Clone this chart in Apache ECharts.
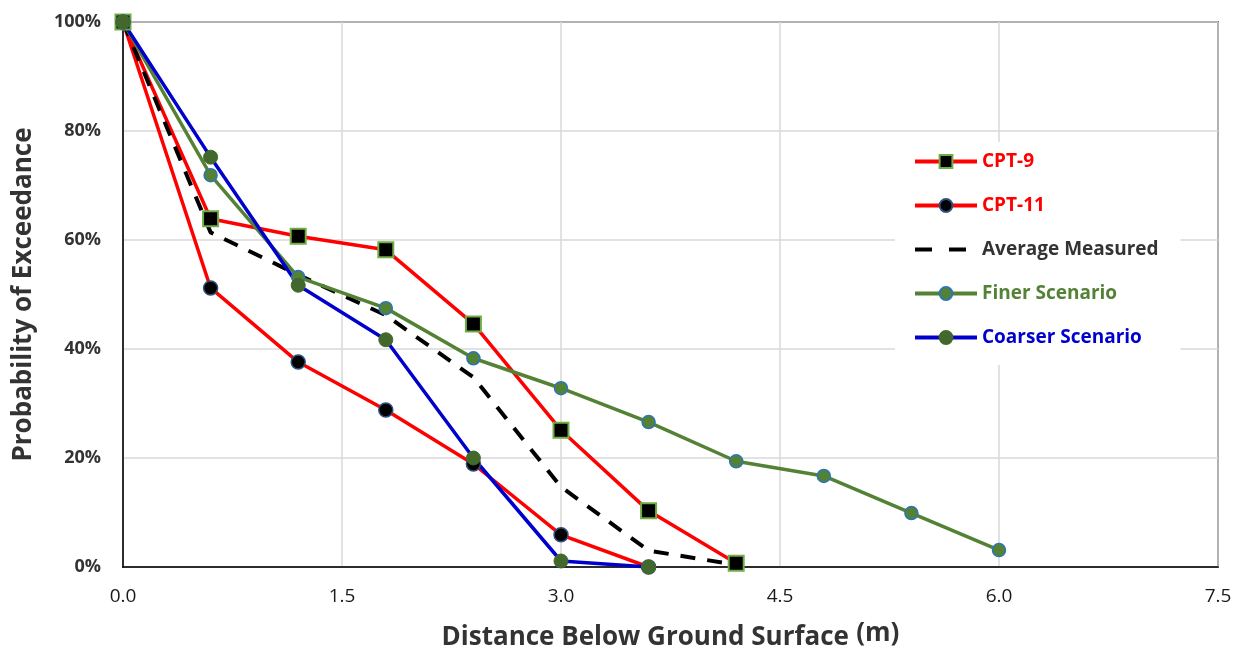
<!DOCTYPE html>
<html>
<head>
<meta charset="utf-8">
<script src="https://cdn.jsdelivr.net/npm/echarts@6/dist/echarts.min.js"></script>
<style>
  html, body { margin: 0; padding: 0; background: #fff; }
  #chart { width: 1236px; height: 650px; }
</style>
</head>
<body>
<div id="chart"></div>
<script>
// distance below ground surface (m)
var depth = [0, 0.6, 1.2, 1.8, 2.4, 3.0, 3.6, 4.2, 4.8, 5.4, 6.0];

// probability of exceedance (%)
var cpt9 = [100, 63.9, 60.7, 58.2, 44.6, 25.1, 10.3, 0.7];
var cpt11 = [100, 51.2, 37.6, 28.8, 18.9, 5.9, 0];
var avgMeasured = [100, 61.4, 53.6, 46.2, 34.8, 14.7, 3.0, 0.4];
var finer = [100, 71.9, 53.2, 47.5, 38.3, 32.8, 26.6, 19.4, 16.7, 9.9, 3.1];
var coarser = [100, 75.2, 51.7, 41.7, 20.0, 1.1, 0];

var xTicks = [0, 1.5, 3.0, 4.5, 6.0, 7.5];

function pairs(vals) {
  return vals.map(function (v, i) { return [depth[i], v]; });
}

var font = 'Open Sans';
// two dashes for the dashed series in the legend (box 62x16)
var dashIcon = 'path://M0,0 M62,16 M0,6 h17 v4 h-17 z M34,6 h17 v4 h-17 z';

var chart = echarts.init(document.getElementById('chart'));

chart.setOption({
  animation: false,
  grid: {
    left: 123, right: 18, top: 22, bottom: 83,
    outerBoundsMode: 'none', containLabel: false,
    show: true, borderColor: '#000', borderWidth: 1.5
  },
  legend: {
    orient: 'vertical',
    left: 895, top: 142,
    padding: [8, 22, 16, 18],
    backgroundColor: '#fff',
    itemWidth: 62, itemHeight: 16, itemGap: 21,
    lineStyle: { width: 4 },
    textStyle: { fontFamily: font, fontWeight: 'bold', fontSize: 19, lineHeight: 23 },
    data: [
      { name: 'CPT-9', textStyle: { color: '#ff0000' } },
      { name: 'CPT-11', textStyle: { color: '#ff0000' } },
      { name: 'Average Measured', icon: dashIcon, itemStyle: { color: '#000', borderWidth: 0 }, textStyle: { color: '#333333' } },
      { name: 'Finer Scenario', textStyle: { color: '#548235' } },
      { name: 'Coarser Scenario', textStyle: { color: '#0000cc' } }
    ]
  },
  xAxis: {
    type: 'value', min: 0, max: 7.5, interval: 1.5,
    name: '{a|Distance Below Ground Surface} {b|(m)}',
    nameLocation: 'middle', nameGap: 54,
    nameTextStyle: {
      rich: {
        a: { fontFamily: font, fontWeight: 'bold', fontSize: 26, color: '#333' },
        b: { fontFamily: font, fontWeight: 'bold', fontSize: 26, color: '#333', padding: [0, 0, 8, 4] }
      }
    },
    axisLine: { lineStyle: { color: '#000', width: 1.5 } },
    axisTick: { show: false },
    axisLabel: {
      fontFamily: font, fontSize: 19, color: '#1a1a1a', margin: 20,
      formatter: function (v) { return xTicks.indexOf(v) >= 0 ? v.toFixed(1) : ''; }
    },
    splitLine: { lineStyle: { color: '#d9d9d9', width: 1.5 } }
  },
  yAxis: {
    type: 'value', min: 0, max: 100, interval: 20,
    name: 'Probability of Exceedance',
    nameLocation: 'middle', nameGap: 86,
    nameTextStyle: { fontFamily: font, fontWeight: 'bold', fontSize: 26, color: '#333' },
    axisLine: { show: true, lineStyle: { color: '#000', width: 1.5 } },
    axisTick: { show: false },
    axisLabel: { fontFamily: font, fontWeight: 'bold', fontSize: 18, color: '#333', margin: 22, formatter: '{value}%' },
    splitLine: { lineStyle: { color: '#d9d9d9', width: 1.5 } }
  },
  series: [
    {
      name: 'CPT-9', type: 'line', data: pairs(cpt9), clip: false,
      symbol: 'rect', symbolSize: 15,
      lineStyle: { color: '#ff0000', width: 3.5 },
      itemStyle: { color: '#000', borderColor: '#70ad47', borderWidth: 2 }
    },
    {
      name: 'CPT-11', type: 'line', data: pairs(cpt11), clip: false,
      symbol: 'circle', symbolSize: 14,
      lineStyle: { color: '#ff0000', width: 3.5 },
      itemStyle: { color: '#000', borderColor: '#2f4f7f', borderWidth: 1.5 }
    },
    {
      name: 'Average Measured', type: 'line', data: pairs(avgMeasured), clip: false,
      symbol: 'none',
      lineStyle: { color: '#000', width: 4, type: [15, 12] },
      itemStyle: { color: '#000' }
    },
    {
      name: 'Finer Scenario', type: 'line', data: pairs(finer), clip: false,
      symbol: 'circle', symbolSize: 13,
      lineStyle: { color: '#548235', width: 3.5 },
      itemStyle: { color: '#548235', borderColor: '#2e75b6', borderWidth: 1.5 }
    },
    {
      name: 'Coarser Scenario', type: 'line', data: pairs(coarser), clip: false,
      symbol: 'circle', symbolSize: 14,
      lineStyle: { color: '#0000cc', width: 3.5 },
      itemStyle: { color: '#43682b', borderColor: '#43682b', borderWidth: 1 }
    }
  ]
});
</script>
</body>
</html>
